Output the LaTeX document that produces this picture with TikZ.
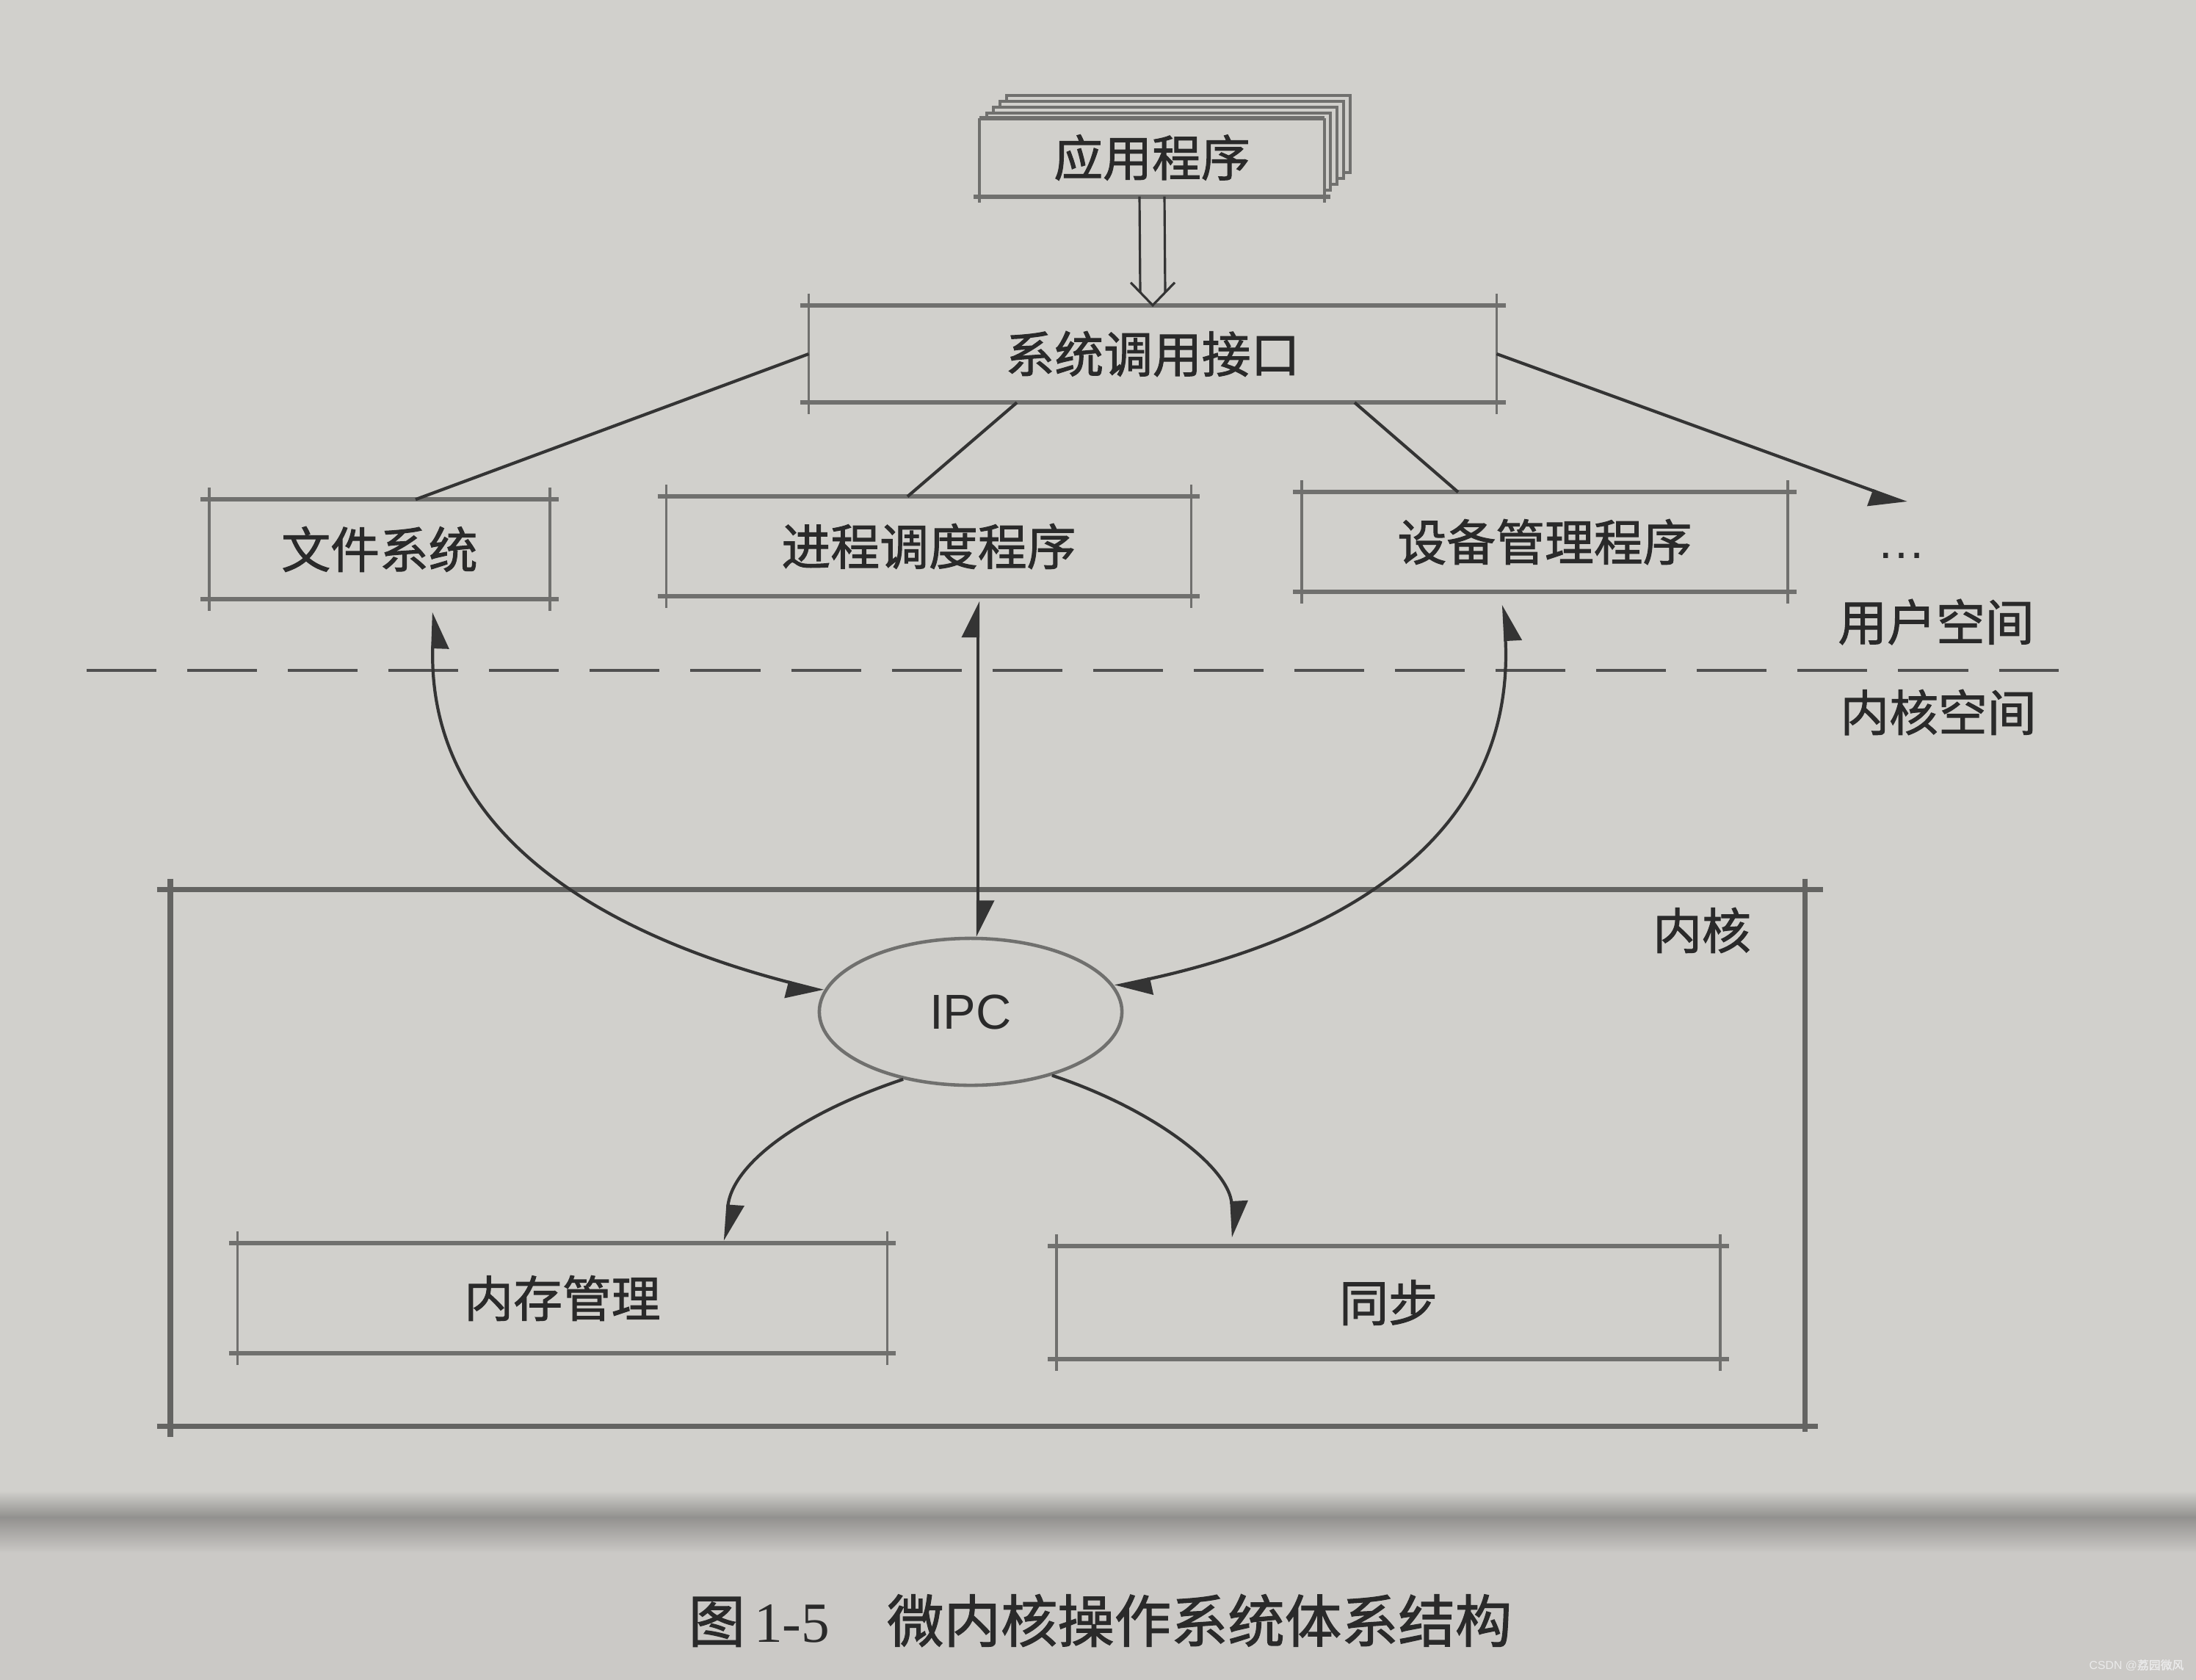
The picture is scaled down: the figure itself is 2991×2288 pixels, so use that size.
\documentclass[tikz,border=0pt]{standalone}
\usepackage{fontspec}
\setmainfont{Liberation Sans}
\newfontfamily\cjk[FakeBold=1.5]{Noto Sans CJK SC}
\newfontfamily\capserif{Liberation Serif}
\usetikzlibrary{arrows.meta,shapes.geometric,calc}
\definecolor{paper}{RGB}{209,208,204}
\definecolor{paperlow}{RGB}{203,201,198}
\definecolor{boxline}{RGB}{112,112,110}
\definecolor{conn}{RGB}{52,52,52}
\definecolor{txt}{RGB}{42,42,42}
\definecolor{kline}{RGB}{100,100,98}
\definecolor{dashc}{RGB}{80,80,80}
\tikzset{
  lbl/.style={font=\cjk\fontsize{19}{19}\selectfont, text=txt, inner sep=0pt},
  boxn/.style={lbl, draw=none, fill=paper},
  hl/.style={draw=boxline, line width=1.7pt},
  vl/.style={draw=boxline, line width=1.0pt},
  kl/.style={draw=kline, line width=2.2pt},
  cn/.style={draw=conn, line width=1.2pt},
  tipL/.tip={Stealth[length=0.45cm,width=0.44cm,inset=0pt,harpoon]},
  tipR/.tip={Stealth[length=0.45cm,width=0.44cm,inset=0pt,harpoon,swap]},
}
\begin{document}
\begin{tikzpicture}[x=0.01cm,y=-0.01cm]
% background
\fill[paper] (0,0) rectangle (2991,2040);
\shade[top color=paper, bottom color=black!30!paper] (0,2030) rectangle (2991,2066);
\shade[top color=black!28!paperlow, bottom color=paperlow] (0,2066) rectangle (2991,2115);
\fill[paperlow] (0,2115) rectangle (2991,2288);
\useasboundingbox (0,0) rectangle (2991,2288);

% kernel frame
\node[draw=none, minimum width=22.24cm, minimum height=7.29cm, inner sep=0pt] (kern) at (1345,1577) {};
\draw[kl] ([shift={(-18,0)}]kern.north west) -- ([shift={(25,0)}]kern.north east);
\draw[kl] ([shift={(-18,0)}]kern.south west) -- ([shift={(18,0)}]kern.south east);
\draw[kl] ([shift={(0,-15)}]kern.north west) -- ([shift={(0,15)}]kern.south west);
\draw[kl] ([shift={(0,-15)}]kern.north east) -- ([shift={(0,8)}]kern.south east);
\node[lbl] (klabel) at (2318,1267) {内核};

% application stack
\foreach \k in {4,3,2,1}{
  \draw[vl, fill=paper] ({1335+9*\k},{162-8*\k}) rectangle ({1803+9*\k},{267-8*\k});
}
\node[boxn, minimum width=4.68cm, minimum height=1.05cm] (app) at (1569,214.5) {应用程序};
\draw[hl] (app.north west) -- (app.north east);
\draw[hl] ([shift={(-8,0)}]app.south west) -- ([shift={(8,0)}]app.south east);
\draw[vl] (app.north west) -- ([shift={(0,8)}]app.south west);
\draw[vl] (app.north east) -- ([shift={(0,8)}]app.south east);

% boxes
\node[boxn, minimum width=9.35cm, minimum height=1.31cm] (sys) at (1570,482) {系统调用接口};
\node[boxn, minimum width=4.62cm, minimum height=1.34cm] (fs) at (517,748) {文件系统};
\node[boxn, minimum width=7.13cm, minimum height=1.34cm] (ps) at (1265,744) {进程调度程序};
\node[boxn, minimum width=6.60cm, minimum height=1.34cm] (dm) at (2104,738) {设备管理程序};
\node[boxn, minimum width=8.83cm, minimum height=1.49cm] (mem) at (766,1768) {内存管理};
\node[boxn, minimum width=9.02cm, minimum height=1.52cm] (syn) at (1891,1774) {同步};
\foreach \n in {sys,fs,ps,dm,mem,syn}{
  \draw[hl] ([shift={(-12,0)}]\n.north west) -- ([shift={(12,0)}]\n.north east);
  \draw[hl] ([shift={(-12,0)}]\n.south west) -- ([shift={(12,0)}]\n.south east);
  \draw[vl] ([shift={(0,-16)}]\n.north west) -- ([shift={(0,16)}]\n.south west);
  \draw[vl] ([shift={(0,-16)}]\n.north east) -- ([shift={(0,16)}]\n.south east);
}

% hollow double arrow app -> sys
\draw[cn, line width=0.9pt] ([shift={(-17,0)}]app.south) -- ([shift={(-17,-18)}]sys.north);
\draw[cn, line width=0.9pt] ([shift={(17,0)}]app.south) -- ([shift={(17,-18)}]sys.north);
\draw[cn, line width=0.9pt] ([shift={(-30,-31)}]sys.north) -- (sys.north) -- ([shift={(30,-31)}]sys.north);

% side labels
\node[text=txt, inner sep=0pt, font=\fontsize{19}{19}\selectfont] (dots) at (2590,757) {…};
\coordinate (dotsarr) at (2597,685);
\node[lbl] (us) at (2637,847) {用户空间};
\node[lbl] (ks) at (2640,970) {内核空间};
\draw[draw=dashc, line width=0.9pt, dash pattern=on 0.95cm off 0.42cm] (118,913) -- (2804,913);

% lines from system call interface
\draw[cn] (sys.west) -- ([shift={(49,0)}]fs.north);
\draw[cn] ([shift={(-185,0)}]sys.south) -- ([shift={(-29,0)}]ps.north);
\draw[cn] ([shift={(275,0)}]sys.south) -- ([shift={(-118,0)}]dm.north);
\draw[cn, -tipR] (sys.east) -- (dotsarr);

% IPC
\node[ellipse, draw=boxline, line width=1.3pt, fill=paper, minimum width=4.12cm, minimum height=2.0cm,
      inner sep=0pt, text=txt, font=\fontsize{19}{19}\selectfont] (ipc) at (1322,1378) {IPC};

% arrows user space <-> IPC
\draw[cn, tipR-tipR] ([shift={(74,18)}]fs.south) .. controls (580,1150) and (850,1280) .. (ipc.172);
\draw[cn, tipL-tipL] ([shift={(67,7)}]ps.south) -- ([shift={(10,0)}]ipc.north);
\draw[cn, tipR-tipL] ([shift={(-56,18)}]dm.south) .. controls (2065,1150) and (1810,1280) .. (ipc.10);

% IPC -> kernel services
\draw[cn, -tipL] (ipc.225) .. controls (1080,1520) and (995,1590) .. ([shift={(222,-3)}]mem.north);
\draw[cn, -tipL] (ipc.322) .. controls (1570,1510) and (1675,1590) .. ([shift={(-211,-12)}]syn.north);

% caption
\node[anchor=west, text=txt, inner sep=0pt, font=\fontsize{22}{22}\selectfont] (cap) at (937,2207)
  {{\cjk 图}\hspace{0.12cm}{\capserif 1-5}\hspace{0.78cm}{\cjk 微内核操作系统体系结构}};
\node[anchor=east, text={rgb,255:red,235;green,235;blue,235}, inner sep=0pt, font=\fontsize{4.5}{5}\selectfont] (wm) at (2975,2268)
  {CSDN @{\cjk 荔园微风}};
\end{tikzpicture}
\end{document}
